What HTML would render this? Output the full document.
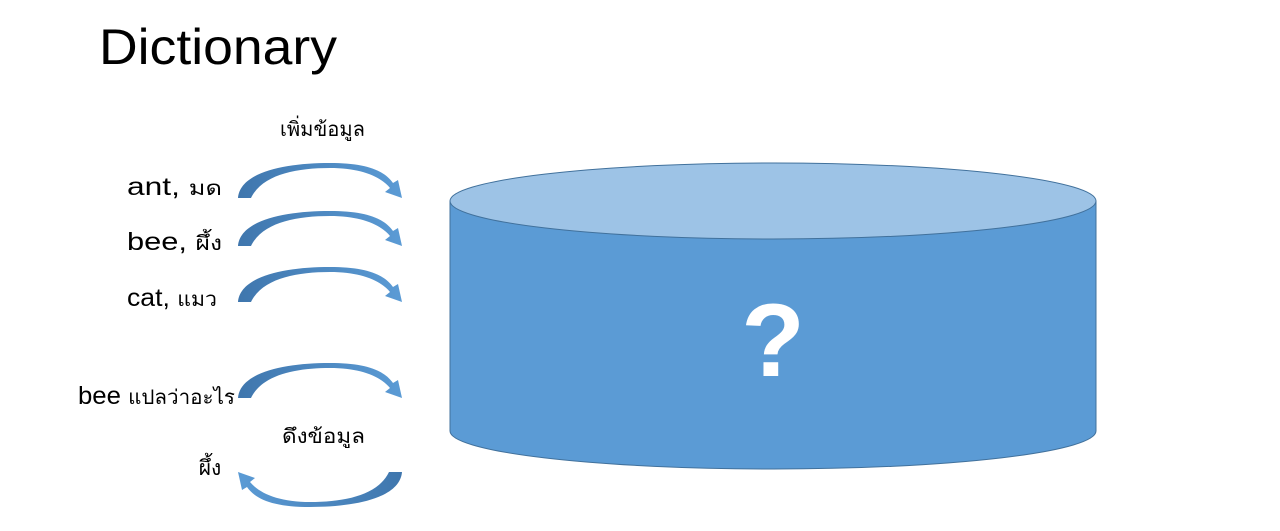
<!DOCTYPE html>
<html><head><meta charset="utf-8"><style>
html,body{margin:0;padding:0;background:#fff;width:1280px;height:531px;overflow:hidden}
text{font-family:"Liberation Sans","Noto Sans CJK SC",sans-serif}
</style></head><body>
<svg width="1280" height="531" viewBox="0 0 1280 531">
<defs>
<linearGradient id="ag" x1="0" x2="1" y1="0" y2="0">
<stop offset="0" stop-color="#3f76ad"/><stop offset="1" stop-color="#5b9bd5"/>
</linearGradient>
<path id="arr" d="M238,198 C240,172 285,163 330,163 C365,163 384,170 393,183 L398,180 L402,198 L385,192 L390,188 C380,176 360,168 330,168 C295,168 262,175 251,198 Z" fill="url(#ag)"/>
</defs>
<text x="99" y="64" font-size="50" textLength="238" lengthAdjust="spacingAndGlyphs" fill="#000">Dictionary</text>
<text x="280" y="136" font-size="20" textLength="85" lengthAdjust="spacingAndGlyphs">เพิ่มข้อมูล</text>
<text x="127" y="195" font-size="25" textLength="95" lengthAdjust="spacingAndGlyphs">ant, <tspan font-size="20">มด</tspan></text>
<text x="127" y="250" font-size="25" textLength="95" lengthAdjust="spacingAndGlyphs">bee, <tspan font-size="20">ผึ้ง</tspan></text>
<text x="127" y="306" font-size="25" textLength="90" lengthAdjust="spacingAndGlyphs">cat, <tspan font-size="20">แมว</tspan></text>
<text x="78" y="404" font-size="25" textLength="157" lengthAdjust="spacingAndGlyphs">bee <tspan font-size="20">แปลว่าอะไร</tspan></text>
<text x="282" y="443" font-size="20" textLength="83" lengthAdjust="spacingAndGlyphs">ดึงข้อมูล</text>
<text x="210" y="475" font-size="21" text-anchor="middle">ผึ้ง</text>
<use href="#arr"/>
<use href="#arr" transform="translate(0,48)"/>
<use href="#arr" transform="translate(0,104)"/>
<use href="#arr" transform="translate(0,200)"/>
<use href="#arr" transform="translate(640,670) scale(-1,-1)"/>
<g>
<path d="M450,201 L450,431 A323,38 0 0 0 1096,431 L1096,201 Z" fill="#5b9bd5" stroke="#41719c" stroke-width="1"/>
<ellipse cx="773" cy="201" rx="323" ry="38" fill="#9dc3e6" stroke="#41719c" stroke-width="1"/>
<text x="773" y="376" font-size="104" font-weight="bold" fill="#fff" text-anchor="middle">?</text>
</g>
</svg>
</body></html>
